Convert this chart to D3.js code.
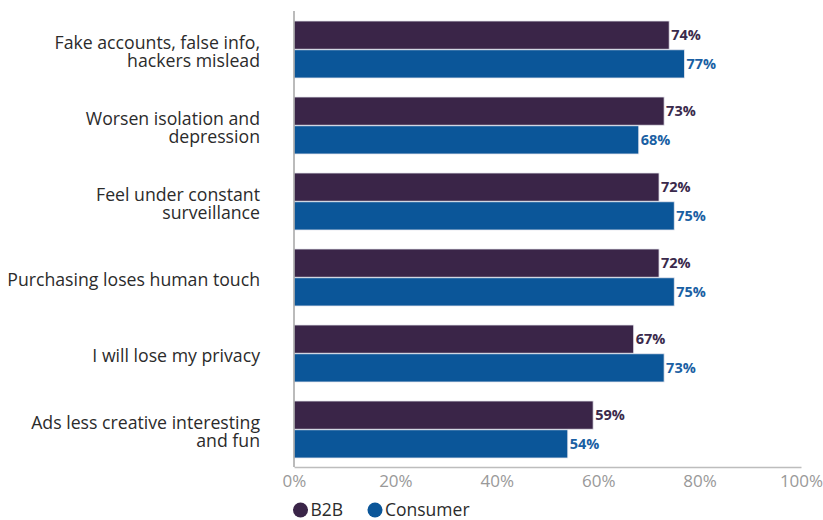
<!DOCTYPE html>
<html><head><meta charset="utf-8">
<script src="https://cdn.jsdelivr.net/npm/d3@7"></script>
<style>body{margin:0;background:#fff}svg{display:block}</style>
</head><body><svg id="c" width="823" height="520"></svg>
<script>
const categories = [
  ["Fake accounts, false info,", "hackers mislead"],
  ["Worsen isolation and", "depression"],
  ["Feel under constant", "surveillance"],
  ["Purchasing loses human touch"],
  ["I will lose my privacy"],
  ["Ads less creative interesting", "and fun"]
];
const seriesNames = ["B2B", "Consumer"];
const b2b = [74, 73, 72, 72, 67, 59];
const consumer = [77, 68, 75, 75, 73, 54];
const ticks = [0, 20, 40, 60, 80, 100];

const colors = {B2B: "#3a2548", Consumer: "#0b5699"};
const labelColors = {B2B: "#3a2a4c", Consumer: "#1a5fa3"};
const font = "'Open Sans', sans-serif";

const svg = d3.select("#c");
const x = d3.scaleLinear().domain([0, 100]).range([294, 801]);
const y0 = d3.scaleBand().domain(d3.range(categories.length)).range([11.5, 467.5]).paddingInner(0.25).paddingOuter(0.125);
const y1 = d3.scaleBand().domain(seriesNames).range([0, y0.bandwidth()]).paddingInner(0.02);

const data = categories.map((c, i) => ({i, vals: [{s: "B2B", v: b2b[i]}, {s: "Consumer", v: consumer[i]}]}));

const g = svg.append("g");
const grp = g.selectAll("g.grp").data(data).join("g").attr("transform", d => `translate(0,${y0(d.i)})`);
grp.selectAll("rect").data(d => d.vals).join("rect")
  .attr("x", x(0)).attr("y", d => y1(d.s)).attr("height", y1.bandwidth())
  .attr("width", d => x(d.v) - x(0)).attr("fill", d => colors[d.s])
  .attr("stroke", "#e6e6ee").attr("stroke-width", 0.8);
grp.selectAll("text.val").data(d => d.vals).join("text").attr("class", "val")
  .attr("x", d => x(d.v) + 2).attr("y", d => y1(d.s) + y1.bandwidth() / 2)
  .attr("dy", "0.36em").attr("fill", d => labelColors[d.s])
  .style("font-family", font).style("font-size", "14.5px").style("font-weight", 700)
  .text(d => d.v + "%");

// category labels
categories.forEach((lines, i) => {
  const cy = y0(i) + y0.bandwidth() / 2 + 2.3;
  const lh = 17.4;
  const t = svg.append("text").attr("text-anchor", "end").attr("fill", "#2b2b2b")
    .style("font-family", font).style("font-size", "17.7px");
  lines.forEach((ln, k) => {
    t.append("tspan").attr("x", 260).attr("y", cy + (k - (lines.length - 1) / 2) * lh).attr("dy", "0.35em").text(ln);
  });
});

// axes
const ax = svg.append("g").attr("transform", "translate(0,467)")
  .call(d3.axisBottom(x).tickValues(ticks).tickFormat(d => d + "%").tickSize(0).tickPadding(8));
ax.select(".domain").attr("stroke", "#bdbdbd").attr("stroke-width", 1.5);
ax.selectAll("text").attr("fill", "#999999").style("font-family", font).style("font-size", "17px");
svg.append("line").attr("x1", 294).attr("x2", 294).attr("y1", 11).attr("y2", 467)
  .attr("stroke", "#a5a5a5").attr("stroke-width", 1.5);

// legend
const legendX = [300.5, 375];
const lg = svg.selectAll("g.lg").data(seriesNames).join("g").attr("class", "lg")
  .attr("transform", (d, i) => `translate(${legendX[i]},510)`);
lg.append("circle").attr("r", 7.5).attr("fill", d => colors[d]);
lg.append("text").attr("x", 10).attr("dy", "0.37em").attr("fill", "#2b2b2b")
  .style("font-family", font).style("font-size", "17.5px").text(d => d);
</script></body></html>
